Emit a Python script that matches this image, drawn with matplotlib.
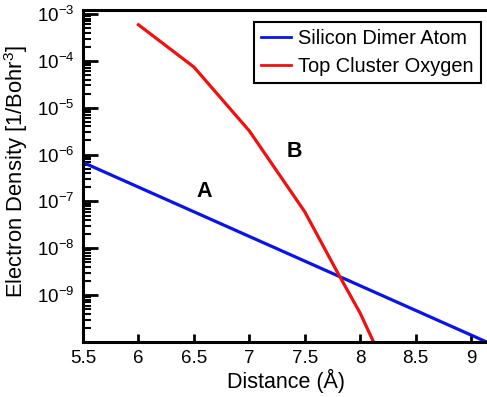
import matplotlib.pyplot as plt
import matplotlib.ticker as ticker

plt.rcParams["font.family"] = ["Liberation Sans", "DejaVu Sans"]
plt.rcParams["mathtext.fontset"] = "custom"
plt.rcParams["mathtext.rm"] = "Liberation Sans"
plt.rcParams["mathtext.it"] = "Liberation Sans:italic"

# data
silicon_x = [5.5, 9.14]
silicon_y = [6.8e-7, 1.0e-10]
oxygen_x = [6.0, 6.5, 7.0, 7.5, 7.8, 8.0, 8.12]
oxygen_y = [5.9e-4, 7.4e-5, 3.2e-6, 6.0e-8, 2.9e-9, 4.1e-10, 1.0e-10]
x_ticks = [5.5, 6, 6.5, 7, 7.5, 8, 8.5, 9]
x_ticklabels = ["5.5", "6", "6.5", "7", "7.5", "8", "8.5", "9"]
y_ticks = [1e-9, 1e-8, 1e-7, 1e-6, 1e-5, 1e-4, 1e-3]

W, H = 487, 397
fig = plt.figure(figsize=(W / 100, H / 100), dpi=100)
ax = fig.add_axes([83 / W, (H - 342) / H, (489 - 83) / W, (342 - 10) / H])

ax.plot(silicon_x, silicon_y, color="#0a14e6", linewidth=2.3, label="Silicon Dimer Atom")
ax.plot(oxygen_x, oxygen_y, color="#f01010", linewidth=2.3, label="Top Cluster Oxygen")

ax.set_yscale("log")
ax.set_xlim(5.5, 5.5 + 406 / 110.9)
ax.set_ylim(1e-10, 1.22e-3)
ax.set_xticks(x_ticks)
ax.set_xticklabels(x_ticklabels)
ax.yaxis.set_major_locator(ticker.FixedLocator(y_ticks))
ax.yaxis.set_minor_locator(ticker.LogLocator(base=10, subs=range(2, 10), numticks=20))
ax.yaxis.set_minor_formatter(ticker.NullFormatter())

ax.tick_params(axis="both", which="major", direction="in", labelsize=13.5, width=2, pad=6)
ax.tick_params(axis="y", which="major", length=11)
ax.tick_params(axis="x", which="major", length=6)
ax.tick_params(axis="y", which="minor", direction="in", length=6, width=1.5)
for s in ax.spines.values():
    s.set_linewidth(2.2)

ax.set_xlabel("Distance (Å)", fontsize=15.5, labelpad=1)
ax.set_ylabel("Electron Density [1/Bohr$^3$]", fontsize=15.8)
ax.yaxis.set_label_coords(-0.13, 0.515)

ax.text(6.59, 1.6e-7, "A", fontsize=15.5, fontweight="bold", ha="center", va="center")
ax.text(7.41, 1.15e-6, "B", fontsize=15.5, fontweight="bold", ha="center", va="center")

leg = ax.legend(loc="upper right", bbox_to_anchor=((481 - 83) / 406, (342 - 22) / 332),
                fontsize=14.4, fancybox=False, framealpha=1, edgecolor="black",
                handlelength=1.5, borderpad=0.35, labelspacing=0.45, handletextpad=0.4,
                borderaxespad=0)
leg.get_frame().set_linewidth(1.5)
for line in leg.get_lines():
    line.set_linewidth(2)

fig.savefig("out.png", dpi=100)
